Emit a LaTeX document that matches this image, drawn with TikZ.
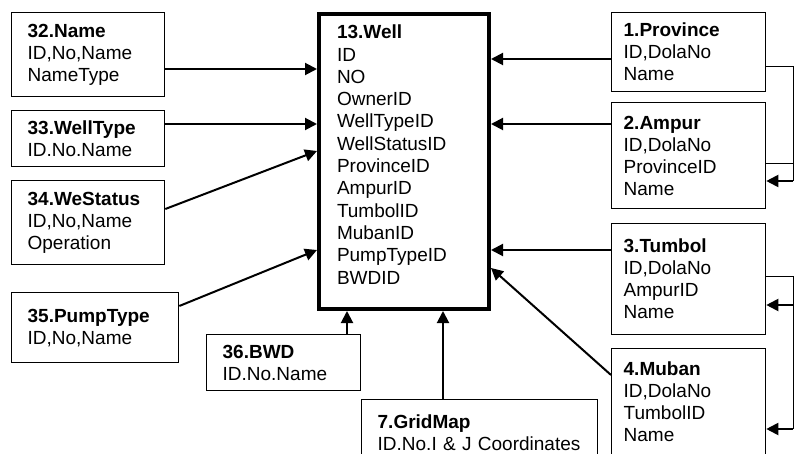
\documentclass[tikz,border=0pt]{standalone}
\usepackage{fontspec}
\setmainfont{Liberation Sans}
\usetikzlibrary{arrows.meta}

\begin{document}
\begin{tikzpicture}[x=1pt, y=-1pt,
  table/.style={draw, rectangle, line width=1.3pt, anchor=north west, align=left,
    inner xsep=16pt, inner ysep=0pt, font=\fontsize{19}{22}\selectfont},
  link/.style={line width=2pt, -{Triangle[length=12pt,width=12pt]}},
  bus/.style={line width=1pt}]
  \useasboundingbox (0,0) rectangle (795,454);
  \clip (0,0) rectangle (795,454);

  % main table
  \node (well) [table, line width=4pt, inner xsep=18pt, text width=134pt, minimum height=295pt,
    font=\fontsize{19}{22.3}\selectfont] at (317,12)
    {\textbf{13.Well}\\ID\\NO\\OwnerID\\WellTypeID\\WellStatusID\\ProvinceID\\AmpurID\\TumbolID\\MubanID\\PumpTypeID\\BWDID\rule[-14pt]{0pt}{14pt}};

  % lookup tables, left
  \node (name) [table, text width=121pt, minimum height=84pt] at (11,12) {\textbf{32.Name}\\ID,No,Name\\NameType};
  \node (welltype) [table, text width=121pt, minimum height=56pt] at (11,110) {\textbf{33.WellType}\\ID.No.Name};
  \node (westatus) [table, text width=121pt, minimum height=84pt] at (11,180) {\textbf{34.WeStatus}\\ID,No,Name\\Operation};
  \node (pumptype) [table, text width=135pt, minimum height=70pt] at (11,292) {\textbf{35.PumpType}\\ID,No,Name};
  \node (bwd) [table, text width=122pt, minimum height=56pt] at (206,334) {\textbf{36.BWD}\\ID.No.Name};
  \node (gridmap) [table, text width=204pt, minimum height=67pt] at (361,399) {\textbf{7.GridMap}\\ID.No.I \& J Coordinates};

  % location tables, right
  \node (province) [table, inner xsep=12pt, text width=130pt, minimum height=79pt] at (611,12) {\textbf{1.Province}\\ID,DolaNo\\Name};
  \node (ampur) [table, inner xsep=12pt, text width=130pt, minimum height=106pt] at (611,102) {\textbf{2.Ampur}\\ID,DolaNo\\ProvinceID\\Name};
  \node (tumbol) [table, inner xsep=12pt, text width=130pt, minimum height=111pt] at (611,223) {\textbf{3.Tumbol}\\ID,DolaNo\\AmpurID\\Name};
  \node (muban) [table, inner xsep=12pt, text width=130pt, minimum height=106pt] at (611,348) {\textbf{4.Muban}\\ID,DolaNo\\TumbolID\\Name};

  \coordinate (rbus) at (793,0);

  \draw [link] (name.east |- 0,69) -- (well.west |- 0,69);
  \draw [link] (welltype.east |- 0,124) -- (well.west |- 0,124);
  \draw [link] (westatus.east |- 0,209) -- (well.west |- 0,151);
  \draw [link] (pumptype.east |- 0,306) -- (well.west |- 0,250);
  \draw [link] (347,0 |- bwd.north) -- (347,0 |- well.south);
  \draw [link] (443,0 |- gridmap.north) -- (443,0 |- well.south);

  \draw [link] (province.west |- 0,59) -- (well.east |- 0,59);
  \draw [link] (ampur.west |- 0,124) -- (well.east |- 0,124);
  \draw [link] (tumbol.west |- 0,250) -- (well.east |- 0,250);
  \draw [link] (muban.west |- 0,375) -- (well.east |- 0,268);

  \draw [bus] (province.east |- 0,67) -| (rbus |- 0,181);
  \draw [bus] (ampur.east |- 0,164) -- (rbus |- 0,164);
  \draw [link] (rbus |- 0,181) -- (ampur.east |- 0,181);
  \draw [bus] (tumbol.east |- 0,277) -| (rbus |- 0,429);
  \draw [link] (rbus |- 0,305) -- (tumbol.east |- 0,305);
  \draw [link] (rbus |- 0,429) -- (muban.east |- 0,429);
\end{tikzpicture}
\end{document}
